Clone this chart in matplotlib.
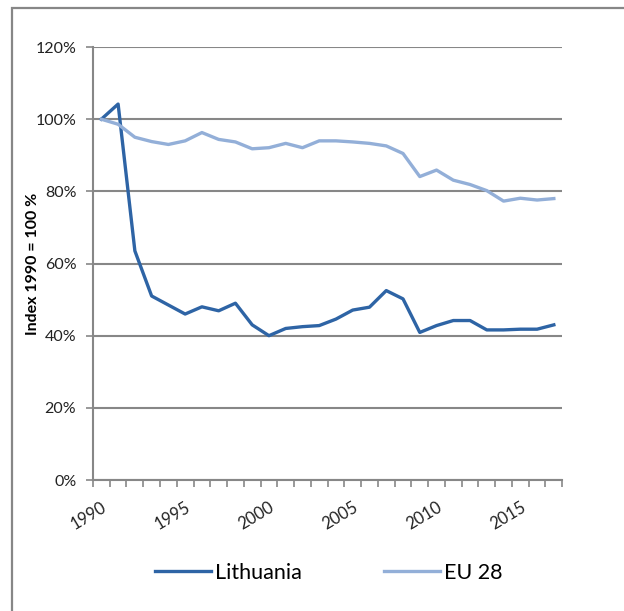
import matplotlib.pyplot as plt
from matplotlib.patches import Rectangle
from matplotlib.ticker import FixedLocator, PercentFormatter

plt.rcParams['font.family'] = ['Lato', 'DejaVu Sans']

years = list(range(1990, 2018))
lithuania = [100, 104.2, 63.5, 51, 48.5, 46, 48, 46.9, 49, 43, 40,
             42, 42.5, 42.8, 44.6, 47.1, 47.9, 52.5, 50.2, 40.9,
             42.8, 44.2, 44.2, 41.6, 41.6, 41.8, 41.8, 43]
eu28 = [100, 98.6, 95, 93.8, 93, 94, 96.3, 94.4, 93.7, 91.8, 92.1,
        93.3, 92.1, 94, 94, 93.7, 93.3, 92.6, 90.5, 84.1,
        85.9, 83.1, 81.9, 80.2, 77.3, 78.1, 77.6, 78]
label_years = [1990, 1995, 2000, 2005, 2010, 2015]

grey = '#878787'

fig = plt.figure(figsize=(6.24, 6.11), dpi=100)
# outer chart frame (only left and top edges visible)
fig.patches.append(Rectangle((12 / 624, -0.1), 1.2, 1 - 8 / 611 + 0.1,
                             transform=fig.transFigure, fill=False,
                             edgecolor=grey, linewidth=1.6))

ax = fig.add_axes([0.149, 0.2144, 0.752, 0.7086])

ax.plot(years, lithuania, color='#2E64A5', linewidth=2.4, label='Lithuania', zorder=3)
ax.plot(years, eu28, color='#93AFD8', linewidth=2.4, label='EU 28', zorder=3)

ax.set_xlim(1989.5, 2017.5)
ax.set_ylim(0, 120)
ax.set_yticks(range(0, 121, 20))
ax.yaxis.set_major_formatter(PercentFormatter(decimals=0))
ax.grid(axis='y', color=grey, linewidth=1.5)
ax.set_axisbelow(True)

ax.set_xticks(label_years)
ax.set_xticklabels([str(y) for y in label_years], rotation=31, ha='right',
                   rotation_mode='anchor', fontsize=12, color='#222222')
ax.tick_params(axis='x', which='major', length=0, pad=14)
ax.xaxis.set_minor_locator(FixedLocator([1989.5 + k for k in range(29)]))
ax.tick_params(axis='x', which='minor', length=5, width=1.2, color=grey, direction='out')
ax.tick_params(axis='y', length=5, width=1.2, color=grey, labelsize=11.5,
               labelcolor='#222222', pad=7)

for s in ['top', 'right']:
    ax.spines[s].set_visible(False)
for s in ['left', 'bottom']:
    ax.spines[s].set_color(grey)
    ax.spines[s].set_linewidth(1.5)

ax.set_ylabel('Index 1990 = 100 %', fontsize=11.5, fontweight='bold')
ax.yaxis.set_label_coords(-0.113, 0.5)

fig.legend(loc='center', bbox_to_anchor=(0.527, 1 - 573 / 611), ncol=2,
           frameon=False, fontsize=15.5, handlelength=2.6, handletextpad=0.2,
           columnspacing=3.8)

plt.savefig('out.png', dpi=100)
